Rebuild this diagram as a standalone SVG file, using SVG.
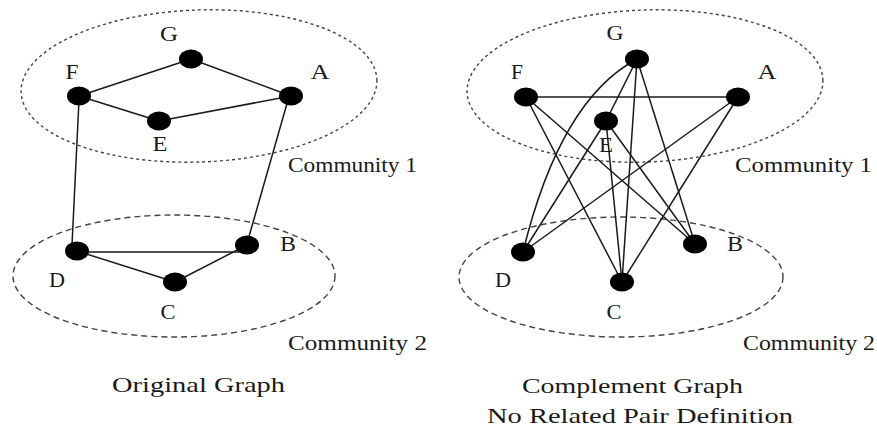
<svg xmlns="http://www.w3.org/2000/svg" width="877" height="429" viewBox="0 0 877 429">
<style>
.bg{fill:#fff}
.comm{fill:none;stroke:#444;stroke-width:1.4;stroke-dasharray:3 3}
.comm2{fill:none;stroke:#444;stroke-width:1.4;stroke-dasharray:6 4}
.edge{fill:none;stroke:#1a1a1a;stroke-width:1.5}
.node{fill:#000}
.lbl{font-family:"Liberation Serif","Times New Roman",serif;font-size:20px;fill:#1a1a1a;text-anchor:middle}
.cap{font-family:"Liberation Serif","Times New Roman",serif;font-size:20px;fill:#1a1a1a}
.title{font-family:"Liberation Serif","Times New Roman",serif;font-size:22px;fill:#1a1a1a}
</style>
<rect class="bg" x="0" y="0" width="877" height="429"/>

<!-- communities -->
<g id="communities">
  <ellipse class="comm" cx="199" cy="86" rx="178" ry="76" transform="rotate(-2 199 86)"/>
  <ellipse class="comm2" cx="174" cy="276" rx="161" ry="61"/>
  <ellipse class="comm" cx="645" cy="86" rx="178" ry="76" transform="rotate(-2 645 86)"/>
  <ellipse class="comm2" cx="621" cy="277" rx="162" ry="60"/>
</g>

<!-- connectors -->
<g id="connectors">
  <!-- original graph -->
  <line class="edge" x1="79" y1="96" x2="191" y2="59"/>
  <line class="edge" x1="191" y1="59" x2="291" y2="96"/>
  <line class="edge" x1="79" y1="96" x2="159" y2="121"/>
  <line class="edge" x1="159" y1="121" x2="291" y2="96"/>
  <line class="edge" x1="79" y1="100" x2="72" y2="245"/>
  <line class="edge" x1="288" y1="100" x2="248" y2="240"/>
  <line class="edge" x1="77" y1="252" x2="242" y2="252"/>
  <line class="edge" x1="77" y1="251" x2="175" y2="282"/>
  <line class="edge" x1="175" y1="282" x2="247" y2="245"/>
  <!-- complement graph -->
  <line class="edge" x1="526" y1="97" x2="738" y2="97"/>
  <path class="edge" d="M637,59 Q560,100 523,252"/>
  <line class="edge" x1="637" y1="59" x2="606" y2="121"/>
  <line class="edge" x1="637" y1="59" x2="622" y2="282"/>
  <line class="edge" x1="637" y1="59" x2="695" y2="244"/>
  <line class="edge" x1="526" y1="97" x2="622" y2="282"/>
  <line class="edge" x1="526" y1="97" x2="695" y2="244"/>
  <line class="edge" x1="738" y1="97" x2="523" y2="252"/>
  <line class="edge" x1="738" y1="97" x2="622" y2="282"/>
  <line class="edge" x1="606" y1="121" x2="523" y2="252"/>
  <line class="edge" x1="606" y1="121" x2="622" y2="282"/>
  <line class="edge" x1="606" y1="121" x2="695" y2="244"/>
</g>

<!-- original graph nodes -->
<g id="o-G"><ellipse class="node" cx="191" cy="59" rx="12" ry="9.5"/><text class="lbl" x="169" y="41" textLength="18" lengthAdjust="spacingAndGlyphs">G</text></g>
<g id="o-F"><ellipse class="node" cx="79" cy="96" rx="12" ry="9.5"/><text class="lbl" x="72" y="79" textLength="13" lengthAdjust="spacingAndGlyphs">F</text></g>
<g id="o-A"><ellipse class="node" cx="291" cy="96" rx="12" ry="9.5"/><text class="lbl" x="320" y="79" textLength="19" lengthAdjust="spacingAndGlyphs">A</text></g>
<g id="o-E"><ellipse class="node" cx="159" cy="121" rx="12" ry="9.5"/><text class="lbl" x="160" y="151" textLength="15" lengthAdjust="spacingAndGlyphs">E</text></g>
<g id="o-D"><ellipse class="node" cx="77" cy="251" rx="12" ry="9.5"/><text class="lbl" x="57" y="287" textLength="16" lengthAdjust="spacingAndGlyphs">D</text></g>
<g id="o-B"><ellipse class="node" cx="247" cy="245" rx="12" ry="9.5"/><text class="lbl" x="288" y="251" textLength="16" lengthAdjust="spacingAndGlyphs">B</text></g>
<g id="o-C"><ellipse class="node" cx="175" cy="282" rx="12" ry="9.5"/><text class="lbl" x="168" y="319" textLength="15" lengthAdjust="spacingAndGlyphs">C</text></g>

<!-- complement graph nodes -->
<g id="c-G"><ellipse class="node" cx="637" cy="59" rx="12" ry="9.5"/><text class="lbl" x="615" y="40" textLength="17" lengthAdjust="spacingAndGlyphs">G</text></g>
<g id="c-F"><ellipse class="node" cx="526" cy="97" rx="12" ry="9.5"/><text class="lbl" x="517" y="79" textLength="12" lengthAdjust="spacingAndGlyphs">F</text></g>
<g id="c-A"><ellipse class="node" cx="738" cy="97" rx="12" ry="9.5"/><text class="lbl" x="767" y="79" textLength="19" lengthAdjust="spacingAndGlyphs">A</text></g>
<g id="c-E"><ellipse class="node" cx="606" cy="121" rx="12" ry="9.5"/><text class="lbl" x="606" y="152" textLength="14" lengthAdjust="spacingAndGlyphs">E</text></g>
<g id="c-D"><ellipse class="node" cx="523" cy="252" rx="12" ry="9.5"/><text class="lbl" x="503" y="287" textLength="16" lengthAdjust="spacingAndGlyphs">D</text></g>
<g id="c-B"><ellipse class="node" cx="695" cy="244" rx="12" ry="9.5"/><text class="lbl" x="735" y="251" textLength="16" lengthAdjust="spacingAndGlyphs">B</text></g>
<g id="c-C"><ellipse class="node" cx="622" cy="282" rx="12" ry="9.5"/><text class="lbl" x="614" y="319" textLength="15" lengthAdjust="spacingAndGlyphs">C</text></g>

<!-- captions -->
<g id="captions">
  <text class="cap" x="288" y="172" textLength="129" lengthAdjust="spacingAndGlyphs">Community 1</text>
  <text class="cap" x="288" y="350" textLength="139" lengthAdjust="spacingAndGlyphs">Community 2</text>
  <text class="cap" x="735" y="172" textLength="137" lengthAdjust="spacingAndGlyphs">Community 1</text>
  <text class="cap" x="743" y="350" textLength="132" lengthAdjust="spacingAndGlyphs">Community 2</text>
  <text class="title" x="112" y="392" textLength="173" lengthAdjust="spacingAndGlyphs">Original Graph</text>
  <text class="title" x="522" y="393" textLength="221" lengthAdjust="spacingAndGlyphs">Complement Graph</text>
  <text class="title" x="487" y="423" textLength="306" lengthAdjust="spacingAndGlyphs">No Related Pair Definition</text>
</g>
</svg>
